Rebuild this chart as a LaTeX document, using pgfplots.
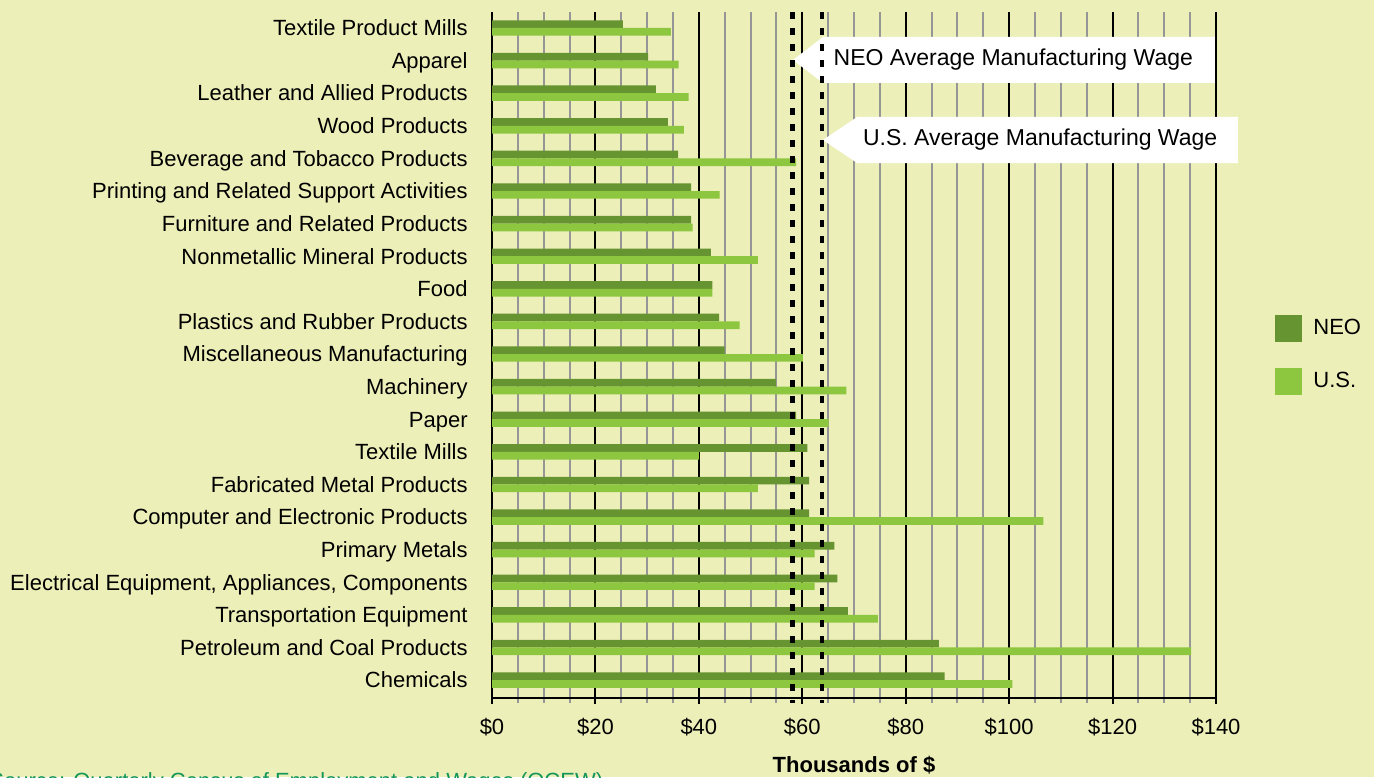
\documentclass[border=0pt]{standalone}
\usepackage{pgfplots}
\pgfplotsset{compat=1.18}
\usepackage{pgfplotstable}
\usepackage{fontspec}
\setmainfont{Liberation Sans}

\definecolor{bgc}{RGB}{237,239,185}
\definecolor{neoc}{RGB}{102,148,48}
\definecolor{usc}{RGB}{141,198,63}
\definecolor{srcc}{RGB}{20,150,90}
\definecolor{gridc}{RGB}{150,150,150}

\pgfplotsset{sqlegend/.style={legend image code/.code={%
    \fill[##1] (0pt,-6.75pt) rectangle (13.5pt,6.75pt);}}}

% average annual wage, thousands of $ (0 = bottom row)
\pgfplotstableread{
idx neo us
0  87.5 100.6
1  86.4 135.2
2  68.8 74.6
3  66.8 62.4
4  66.2 62.4
5  61.3 106.6
6  61.3 51.4
7  61.0 40.0
8  58.8 65.1
9  54.9 68.5
10 45.0 60.1
11 43.9 47.9
12 42.6 42.6
13 42.3 51.4
14 38.5 38.8
15 38.5 44.0
16 36.0 58.8
17 34.0 37.1
18 31.7 38.0
19 30.2 36.1
20 25.3 34.6
}\wages

\begin{document}
\fontsize{11}{13}\selectfont
\begin{tikzpicture}
\useasboundingbox (0,0) rectangle (687pt,-388.5pt);
\clip (0,0) rectangle (687pt,-388.5pt);
\fill[bgc] (0,0) rectangle (687pt,-388.5pt);

\begin{axis}[
    at={(246pt,-349pt)}, anchor=south west,
    scale only axis, width=362pt, height=343pt,
    clip=false,
    xmin=0, xmax=140, ymin=-0.55, ymax=20.49,
    xtick={0,20,...,140}, minor x tick num=3,
    xticklabel={\$\pgfmathprintnumber{\tick}},
    ytick={0,...,20},
    yticklabels={Chemicals, Petroleum and Coal Products, Transportation Equipment,
        {Electrical Equipment, Appliances, Components}, Primary Metals,
        Computer and Electronic Products, Fabricated Metal Products, Textile Mills,
        Paper, Machinery, Miscellaneous Manufacturing, Plastics and Rubber Products,
        Food, Nonmetallic Mineral Products, Furniture and Related Products,
        Printing and Related Support Activities, Beverage and Tobacco Products,
        Wood Products, Leather and Allied Products, Apparel, Textile Product Mills},
    axis x line=bottom, axis y line=left,
    axis line style={-, black, line width=1.2pt},
    xmajorgrids, xminorgrids,
    major grid style={black, line width=1pt},
    minor grid style={gridc, line width=1pt},
    tick align=outside,
    major tick length=3pt, minor tick length=2.5pt,
    xtick style={black, line width=1pt},
    minor x tick style={gridc},
    ytick style={draw=none},
    /pgf/number format/assume math mode=true,
    tick label style={font=\fontsize{11}{13}\selectfont},
    xticklabel style={anchor=base, yshift=-15pt},
    yticklabel style={anchor=base east, inner sep=0pt, xshift=-9pt, yshift=-3.9pt},
    xlabel={\bfseries Thousands of \$},
    xlabel style={at={(axis description cs:0.5,-0.1093)}, anchor=base, inner sep=0pt,
        font=\fontsize{11}{13}\selectfont},
    legend style={draw=none, fill=none, inner sep=0pt, row sep=13pt,
        at={(1.0815,0.5)}, anchor=west, nodes={inner sep=0pt},
        font=\fontsize{11}{13}\selectfont,
        /tikz/every odd column/.append style={column sep=5.5pt}},
    legend cell align=left,
]

\addplot[xbar, bar width=3.85pt, bar shift=1.925pt, fill=neoc, draw=none, sqlegend]
    table[x=neo, y=idx] {\wages};
\addlegendentry{NEO}
\addplot[xbar, bar width=3.85pt, bar shift=-1.925pt, fill=usc, draw=none, sqlegend]
    table[x=us, y=idx] {\wages};
\addlegendentry{U.S.}

% callouts
\fill[white] (axis cs:58.2,19.018) -- (axis cs:64.0,19.724) -- (axis cs:139.8,19.724)
    -- (axis cs:139.8,18.313) -- (axis cs:64.0,18.313) -- cycle;
\node[font=\fontsize{11.5}{13}\selectfont] at (axis cs:100.8,19.018)
    {NEO Average Manufacturing Wage};
\fill[white] (axis cs:64.0,16.564) -- (axis cs:70.6,17.270) -- (axis cs:144.25,17.270)
    -- (axis cs:144.25,15.859) -- (axis cs:70.6,15.859) -- cycle;
\node[font=\fontsize{11.5}{13}\selectfont] at (axis cs:106.0,16.564)
    {U.S. Average Manufacturing Wage};

% average wage lines
\addplot[black, line width=2.4pt, dash pattern=on 3.5pt off 4.5pt, forget plot]
    coordinates {(58.1,20.49) (58.1,-0.7)};
\addplot[black, line width=2.4pt, dash pattern=on 3.5pt off 4.5pt, forget plot]
    coordinates {(63.8,20.49) (63.8,-0.7)};
\end{axis}

\begin{scope}[x=0.5pt, y=-0.5pt]
\node[anchor=base west, inner sep=0pt, text=srcc] at (-11,788)
    {Source: Quarterly Census of Employment and Wages (QCEW)};
\end{scope}
\end{tikzpicture}
\end{document}
